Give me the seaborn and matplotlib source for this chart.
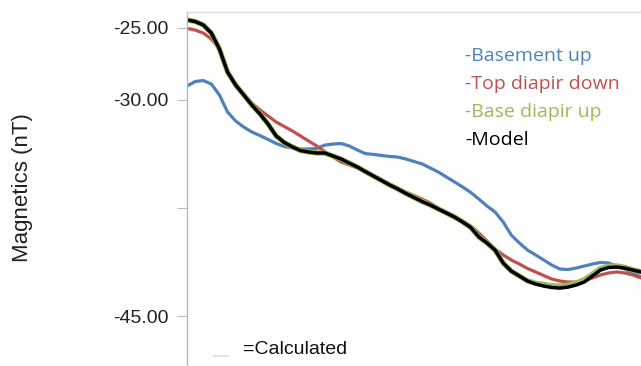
#!/usr/bin/env python3

import numpy as np
import pandas as pd
import matplotlib
matplotlib.use("Agg")
import matplotlib.pyplot as plt
import seaborn as sns

# distance along the profile (half-station steps)
station = [k / 2 for k in range(57)]

# magnetic response, nT
basement_up = [-29.03, -28.72, -28.65, -28.89, -29.65, -30.83, -31.46, -31.88, -32.22, -32.47,
               -32.74, -33.02, -33.23, -33.33, -33.40, -33.40, -33.37, -33.13, -33.06, -33.02,
               -33.19, -33.47, -33.72, -33.78, -33.85, -33.92, -33.96, -34.10, -34.27, -34.44,
               -34.72, -35.00, -35.35, -35.69, -36.04, -36.42, -36.88, -37.36, -37.78, -38.47,
               -39.38, -39.93, -40.42, -40.76, -41.11, -41.46, -41.74, -41.77, -41.67, -41.53,
               -41.39, -41.28, -41.32, -41.53, -41.74, -42.01, -42.29]
top_diapir_down = [-25.03, -25.14, -25.35, -25.76, -26.46, -27.99, -28.89, -29.58, -30.21, -30.69,
                   -31.11, -31.53, -31.84, -32.15, -32.50, -32.85, -33.19, -33.58, -33.96, -34.31,
                   -34.51, -34.72, -35.00, -35.28, -35.56, -35.83, -36.11, -36.39, -36.63, -36.88,
                   -37.15, -37.50, -37.78, -38.06, -38.40, -38.75, -39.24, -39.79, -40.35, -40.76,
                   -41.11, -41.39, -41.70, -41.94, -42.19, -42.43, -42.57, -42.64, -42.64, -42.57,
                   -42.36, -42.15, -42.01, -41.94, -42.01, -42.15, -42.36]
base_diapir_up = [-24.44, -24.55, -24.79, -25.35, -26.46, -28.06, -28.96, -29.65, -30.35, -30.97,
                  -31.67, -32.50, -32.95, -33.26, -33.51, -33.61, -33.68, -33.68, -33.89, -34.10,
                  -34.38, -34.65, -34.97, -35.28, -35.59, -35.90, -36.18, -36.49, -36.77, -37.05,
                  -37.29, -37.57, -37.85, -38.13, -38.47, -38.85, -39.51, -39.93, -40.42, -41.32,
                  -41.88, -42.22, -42.55, -42.72, -42.80, -42.90, -42.92, -42.85, -42.70, -42.48,
                  -42.10, -41.70, -41.55, -41.52, -41.62, -41.79, -41.92]
model = [-24.44, -24.55, -24.79, -25.35, -26.46, -28.06, -28.96, -29.65, -30.35, -30.97,
         -31.67, -32.50, -32.95, -33.26, -33.51, -33.61, -33.68, -33.68, -33.89, -34.10,
         -34.38, -34.65, -34.97, -35.28, -35.59, -35.90, -36.18, -36.49, -36.77, -37.05,
         -37.29, -37.57, -37.85, -38.13, -38.47, -38.85, -39.51, -39.93, -40.42, -41.32,
         -41.88, -42.22, -42.57, -42.78, -42.92, -43.02, -43.06, -42.99, -42.85, -42.64,
         -42.22, -41.81, -41.63, -41.60, -41.67, -41.81, -41.94]

series_names = ["-Basement up", "-Top diapir down", "-Base diapir up", "-Model"]
series_colors = ["#4F81BD", "#C0504D", "#9BBB59", "#000000"]
tick_values = [-25, -30, -37.5, -45]
tick_labels = ["-25.00", "-30.00", "", "-45.00"]

sns.set_style("white")
plt.rcParams["font.family"] = ["Liberation Sans", "DejaVu Sans"]

fig = plt.figure(figsize=(6.41, 3.66), dpi=100)
ax = fig.add_axes([187 / 641, 0.0, 454 / 641, 354 / 366])

line_kw = dict(solid_joinstyle="round", solid_capstyle="round")
sns.lineplot(x=station, y=basement_up, ax=ax, color=series_colors[0], lw=2.3, **line_kw)
sns.lineplot(x=station, y=top_diapir_down, ax=ax, color=series_colors[1], lw=2.3, **line_kw)
sns.lineplot(x=station, y=base_diapir_up, ax=ax, color=series_colors[2], lw=3.8, **line_kw)
sns.lineplot(x=station, y=model, ax=ax, color=series_colors[3], lw=2.5, **line_kw)

ax.set_xlim(0, 28)
ax.set_ylim(-48.47, -23.89)
ax.set_xticks([])
ax.set_yticks(tick_values)
ax.set_yticklabels(tick_labels, fontsize=14, color="#222222")
ax.tick_params(axis="y", length=7, width=0.8, color="#bbbbbb", pad=6, direction="out")
ax.yaxis.set_ticks_position("left")

for side in ["right", "bottom"]:
    ax.spines[side].set_visible(False)
ax.spines["left"].set_color("#bbbbbb")
ax.spines["top"].set_color("#dddddd")
ax.spines["left"].set_linewidth(1.0)
ax.spines["top"].set_linewidth(1.0)

fig.text(23 / 641, 1 - 188 / 366, "Magnetics (nT)", rotation=90, fontsize=16,
         ha="center", va="center", color="#222222")

# text legend, coloured labels
for i, (name, col) in enumerate(zip(series_names, series_colors)):
    fig.text(465 / 641, 1 - (56 + i * 28) / 366, name, color=col, fontsize=14,
             family=["Open Sans", "DejaVu Sans"], ha="left", va="center")

fig.add_artist(plt.Line2D([213 / 641, 228 / 641], [1 - 356 / 366, 1 - 356 / 366],
                          color="#dddddd", lw=1.2))
fig.text(243 / 641, 1 - 350 / 366, "=Calculated", fontsize=14, color="#111111",
         ha="left", va="center")

fig.savefig("out.png", dpi=100)
